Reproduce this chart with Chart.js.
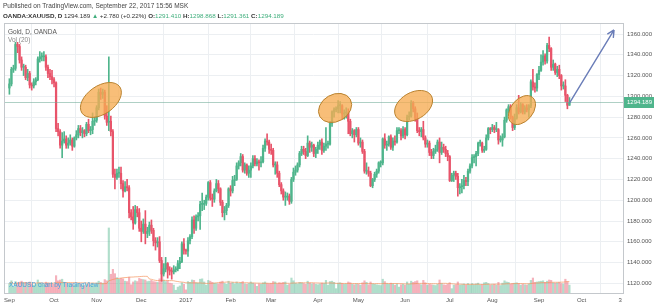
<!DOCTYPE html>
<html>
<head>
<meta charset="utf-8">
<script src="https://cdn.jsdelivr.net/npm/chart.js@4.4.0/dist/chart.umd.min.js"></script>
<style>
  html, body { margin: 0; padding: 0; background: #fff; }
  #wrap { position: relative; width: 654px; height: 307px; overflow: hidden; font-family: "Liberation Sans", Arial, sans-serif; }
  #goldChart { position: absolute; left: 0; top: 0; }
  .txt { position: absolute; white-space: nowrap; font-size: 6.5px; line-height: 8px; color: #333; }
  .up { color: #3fae7c; }
</style>
</head>
<body>
<div id="wrap">
  <canvas id="goldChart" width="654" height="307"></canvas>
  <div class="txt" style="left:3px;top:2px;color:#444;font-size:6.5px">Published on TradingView.com, September 22, 2017 15:56 MSK</div>
  <div class="txt" style="left:3px;top:12px;color:#333;font-size:6.25px"><b>OANDA:XAUUSD, D</b> 1294.189 <span class="up">▲</span> +2.780 (+0.22%) <b>O:</b><span class="up">1291.410</span> <b>H:</b><span class="up">1298.868</span> <b>L:</b><span class="up">1291.361</span> <b>C:</b><span class="up">1294.189</span></div>
  <div class="txt" style="left:8px;top:28px;color:#555">Gold, D, OANDA</div>
  <div class="txt" style="left:8px;top:36px;color:#888">Vol (20)</div>
  <div class="txt" style="left:9px;top:281px;color:#45a3dc">XAUUSD chart by TradingView</div>
</div>
<script>
// daily bars, Sep 1 2016 .. Sep 22 2017 (one line per month)
const opens = [
    1308,1312,1326,1327,1350,1348,1335,1328,1328,1318,1322,1311,1310,1314,1316,1336,1338,1338,1338,1328,1322,1319,
    1316,1313,1269,1266,1253,1257,1259,1253,1255,1258,1252,1260,1263,1269,1265,1267,1264,1273,1267,1268,1276,
    1277,1289,1304,1302,1304,1281,1275,1276,1266,1225,1222,1226,1226,1216,1209,1213,1212,1188,1184,1178,1191,1188,
    1173,1170,1177,1168,1170,1176,1171,1161,1159,1160,1142,1129,1134,1139,1133,1132,1131,1133,1134,1139,1141,1158,
    1152,1151,1161,1165,1181,1173,1184,1185,1196,1196,1197,1203,1217,1202,1201,1209,1216,1211,1198,1188,1190,1195,
    1211,1209,1219,1220,1233,1236,1242,1229,1234,1226,1229,1233,1240,1235,1237,1236,1237,1250,1257,1256,
    1249,1248,1234,1234,1226,1215,1209,1203,1203,1204,1199,1220,1227,1229,1234,1245,1249,1247,1243,1255,1251,1253,1245,
    1249,1253,1256,1248,1252,1254,1254,1274,1285,1287,1288,1291,1291,1283,1284,1284,1276,1264,1267,1263,
    1268,1255,1256,1247,1228,1228,1226,1214,1220,1225,1228,1236,1236,1259,1253,1254,1261,1251,1257,1256,1267,1267,1262,
    1268,1263,1280,1281,1294,1288,1279,1267,1266,1268,1260,1254,1255,1246,1243,1247,1249,1256,1246,1251,1249,1245,
    1242,1219,1224,1226,1223,1212,1213,1214,1219,1218,1228,1233,1241,1242,1245,1255,1255,1248,1249,1260,1269,
    1268,1270,1268,1268,1258,1258,1261,1277,1287,1290,1280,1270,1279,1289,1285,1292,1285,1289,1287,1291,1314,1309,1308,
    1321,1325,1333,1339,1334,1349,1346,1328,1331,1323,1326,1320,1310,1310,1301,1291.41
];
const highs = [
    1317,1328,1330,1352,1352,1350,1338,1331,1330,1326,1324,1313,1317,1318,1338,1343,1342,1343,1340,1330,1326,1325,
    1318,1314,1274,1268,1265,1266,1262,1260,1263,1260,1261,1267,1272,1272,1270,1268,1275,1278,1271,1284,1280,
    1291,1307,1308,1307,1306,1291,1338,1281,1268,1230,1230,1232,1232,1219,1218,1220,1214,1191,1194,1195,1194,1192,
    1180,1182,1190,1174,1179,1181,1173,1164,1164,1165,1145,1139,1145,1140,1136,1135,1137,1136,1142,1145,1160,1163,
    1153,1164,1167,1184,1185,1186,1188,1199,1207,1200,1205,1218,1219,1206,1211,1220,1219,1212,1200,1194,1197,1212,
    1214,1223,1224,1236,1238,1245,1244,1236,1235,1233,1236,1243,1243,1240,1239,1242,1253,1259,1264,1258,
    1254,1250,1237,1237,1228,1217,1211,1208,1207,1206,1222,1231,1233,1236,1247,1252,1252,1250,1262,1257,1256,1254,1251,
    1256,1258,1259,1255,1270,1257,1276,1286,1289,1290,1296,1295,1292,1287,1289,1288,1278,1269,1268,1270,
    1270,1260,1258,1249,1236,1232,1228,1221,1227,1230,1237,1238,1260,1264,1257,1262,1263,1260,1262,1270,1270,1269,1271,
    1270,1282,1285,1296,1295,1290,1284,1270,1270,1276,1262,1258,1257,1249,1250,1253,1258,1260,1256,1254,1252,1248,
    1243,1226,1228,1228,1226,1216,1220,1224,1222,1230,1235,1244,1244,1247,1256,1258,1256,1252,1263,1270,1270,
    1273,1272,1275,1269,1262,1264,1280,1288,1292,1292,1281,1283,1292,1301,1294,1293,1291,1292,1292,1316,1326,1313,1322,
    1329,1340,1344,1341,1351,1357,1347,1335,1332,1329,1330,1321,1314,1316,1302,1298.87
];
const lows = [
    1302,1310,1323,1325,1342,1332,1325,1320,1316,1315,1308,1306,1308,1311,1315,1333,1334,1334,1325,1318,1316,1312,
    1309,1266,1262,1250,1241,1255,1250,1250,1253,1248,1251,1258,1260,1262,1260,1261,1262,1265,1263,1264,1272,
    1275,1287,1297,1298,1278,1272,1267,1262,1222,1211,1220,1222,1211,1203,1208,1209,1183,1181,1172,1177,1184,1170,
    1160,1168,1158,1164,1166,1168,1156,1152,1155,1140,1122,1127,1131,1125,1128,1124,1129,1131,1132,1134,1140,1148,
    1148,1146,1158,1163,1168,1171,1180,1172,1190,1191,1195,1200,1200,1194,1198,1208,1207,1195,1184,1181,1186,1193,
    1204,1207,1214,1219,1230,1233,1227,1226,1224,1222,1222,1231,1233,1233,1229,1232,1236,1247,1253,1245,
    1244,1232,1225,1222,1213,1206,1200,1195,1200,1196,1197,1218,1224,1227,1232,1243,1244,1240,1242,1246,1247,1242,1241,
    1245,1249,1244,1246,1248,1250,1253,1271,1280,1285,1284,1284,1278,1278,1279,1264,1262,1260,1256,1261,
    1253,1251,1245,1226,1225,1223,1213,1212,1218,1222,1226,1232,1234,1250,1248,1252,1249,1248,1253,1255,1264,1258,1260,
    1259,1262,1277,1280,1285,1276,1265,1262,1261,1258,1251,1251,1243,1240,1240,1245,1247,1236,1244,1246,1242,1238,
    1218,1218,1218,1220,1204,1206,1207,1211,1214,1214,1226,1231,1236,1233,1243,1252,1246,1246,1248,1258,1264,
    1266,1265,1266,1254,1256,1252,1260,1275,1284,1278,1267,1268,1278,1283,1284,1283,1283,1285,1280,1289,1306,1304,1305,
    1316,1324,1330,1331,1332,1343,1325,1325,1321,1319,1317,1306,1307,1295,1288,1291.36
];
const closes = [
    1312,1326,1327,1350,1348,1335,1328,1328,1318,1322,1311,1310,1314,1316,1336,1338,1338,1338,1328,1322,1319,1316,
    1313,1269,1266,1253,1257,1259,1253,1255,1258,1252,1260,1263,1269,1265,1267,1264,1273,1267,1268,1276,1277,
    1289,1304,1302,1304,1281,1275,1276,1266,1225,1222,1226,1226,1216,1209,1213,1212,1188,1184,1178,1191,1188,1173,
    1170,1177,1168,1170,1176,1171,1161,1159,1160,1142,1129,1134,1139,1133,1132,1131,1133,1134,1139,1141,1158,1152,
    1151,1161,1165,1181,1173,1184,1185,1196,1196,1197,1203,1217,1202,1201,1209,1216,1211,1198,1188,1190,1195,1211,
    1209,1219,1220,1233,1236,1242,1229,1234,1226,1229,1233,1240,1235,1237,1236,1237,1250,1257,1256,1249,
    1248,1234,1234,1226,1215,1209,1203,1203,1204,1199,1220,1227,1229,1234,1245,1249,1247,1243,1255,1251,1253,1245,1249,
    1253,1256,1248,1252,1254,1254,1274,1285,1287,1288,1291,1291,1283,1284,1284,1276,1264,1267,1263,1268,
    1255,1256,1247,1228,1228,1226,1214,1220,1225,1228,1236,1236,1259,1253,1254,1261,1251,1257,1256,1267,1267,1262,1268,
    1263,1280,1281,1294,1288,1279,1267,1266,1268,1260,1254,1255,1246,1243,1247,1249,1256,1246,1251,1249,1245,1242,
    1219,1224,1226,1223,1212,1213,1214,1219,1218,1228,1233,1241,1242,1245,1255,1255,1248,1249,1260,1269,1268,
    1270,1268,1268,1258,1258,1261,1277,1287,1290,1280,1270,1279,1289,1285,1292,1285,1289,1287,1291,1314,1309,1308,1321,
    1325,1333,1339,1334,1349,1346,1328,1331,1323,1326,1320,1310,1310,1301,1291.41,1294.19
];
// volume, thousands
const volumes = [
    48,62,30,58,52,55,60,50,54,47,56,45,40,44,66,52,45,43,55,50,46,48,
    44,88,62,66,70,50,48,46,45,47,42,44,49,46,42,38,44,46,40,50,42,
    52,60,54,50,68,62,330,95,120,98,78,70,74,72,60,58,80,42,56,62,58,74,
    70,68,66,58,60,64,58,56,54,72,96,66,58,62,50,48,40,14,30,36,52,44,
    16,58,54,66,64,52,50,70,72,56,40,64,60,54,50,48,46,56,60,48,44,60,
    50,54,46,56,48,52,58,46,44,48,56,50,46,34,46,44,52,56,48,46,
    48,58,56,46,52,50,54,56,40,44,76,62,50,46,54,52,48,44,60,50,46,48,44,
    42,46,50,48,64,40,58,60,54,22,50,52,48,44,46,56,52,44,42,46,
    44,40,52,62,54,42,56,46,44,42,40,38,70,58,48,44,50,46,40,46,30,42,44,
    40,56,44,60,54,58,62,44,42,64,52,40,44,42,40,38,44,66,48,42,40,44,
    52,22,40,42,56,40,42,46,40,48,40,48,42,46,50,40,42,52,54,48,40,
    42,44,40,54,38,50,62,56,54,44,48,50,52,48,40,44,42,40,46,64,76,54,56,
    58,60,62,54,60,66,64,52,50,52,54,48,46,70,58,40
];
const monthStarts = [0, 22, 43, 65, 87, 109, 129, 152, 172, 195, 217, 238, 261, 282, 301];
const monthLabels = ['Sep', 'Oct', 'Nov', 'Dec', '2017', 'Feb', 'Mar', 'Apr', 'May', 'Jun', 'Jul', 'Aug', 'Sep', 'Oct', '3'];
const priceTicks = [1120, 1140, 1160, 1180, 1200, 1220, 1240, 1260, 1280, 1300, 1320, 1340, 1360];
const lastPrice = 1294.189;

// hand-drawn marks on the chart (bar index / price)
const highlights = [
    { bar: 45.1, price: 1296.5, rx: 23, ry: 14, tilt: -35 },
    { bar: 160.5, price: 1288.8, rx: 17.5, ry: 13.5, tilt: -30 },
    { bar: 199.2, price: 1290.7, rx: 20.5, ry: 13.5, tilt: -30 },
    { bar: 252.6, price: 1286.8, rx: 16.5, ry: 11, tilt: -50 }
];
const arrow = { from: [276, 1293.5], to: [298, 1364] };

const UP = '#4fb58c', DOWN = '#e8546a';
const isUp = closes.map((c, i) => c >= opens[i]);
const candleColors = isUp.map(u => u ? UP : DOWN);
const volColors = isUp.map(u => u ? 'rgba(79,181,140,0.45)' : 'rgba(232,84,106,0.45)');

// Vol(20) moving average
const volMA = volumes.map((v, i) => {
    const from = Math.max(0, i - 19);
    const part = volumes.slice(from, i + 1);
    return { x: i, y: part.reduce((a, b) => a + b, 0) / part.length };
});

const markup = {
    id: 'markup',
    afterDatasetsDraw(chart) {
        const { ctx, chartArea: a, scales: { x, y } } = chart;
        ctx.save();
        ctx.beginPath();
        ctx.rect(a.left, a.top, a.right - a.left, a.bottom - a.top);
        ctx.clip();
        // last price line
        const py = Math.round(y.getPixelForValue(lastPrice)) + 0.5;
        ctx.strokeStyle = 'rgba(110,170,150,0.55)';
        ctx.lineWidth = 1;
        ctx.beginPath();
        ctx.moveTo(a.left, py);
        ctx.lineTo(a.right, py);
        ctx.stroke();
        // ellipses
        highlights.forEach(h => {
            ctx.beginPath();
            ctx.ellipse(x.getPixelForValue(h.bar), y.getPixelForValue(h.price), h.rx, h.ry, h.tilt * Math.PI / 180, 0, Math.PI * 2);
            ctx.fillStyle = 'rgba(246,172,82,0.78)';
            ctx.fill();
            ctx.strokeStyle = '#b9822f';
            ctx.lineWidth = 1;
            ctx.stroke();
        });
        // arrow
        const x1 = x.getPixelForValue(arrow.from[0]), y1 = y.getPixelForValue(arrow.from[1]);
        const x2 = x.getPixelForValue(arrow.to[0]), y2 = y.getPixelForValue(arrow.to[1]);
        const ang = Math.atan2(y2 - y1, x2 - x1);
        ctx.strokeStyle = '#6a7db8';
        ctx.lineWidth = 1.4;
        ctx.beginPath();
        ctx.moveTo(x1, y1);
        ctx.lineTo(x2, y2);
        ctx.moveTo(x2, y2);
        ctx.lineTo(x2 - 8 * Math.cos(ang - 0.45), y2 - 8 * Math.sin(ang - 0.45));
        ctx.moveTo(x2, y2);
        ctx.lineTo(x2 - 8 * Math.cos(ang + 0.45), y2 - 8 * Math.sin(ang + 0.45));
        ctx.stroke();
        ctx.restore();
    },
    afterDraw(chart) {
        const { ctx, chartArea: a, scales: { y } } = chart;
        ctx.save();
        // frame
        ctx.strokeStyle = '#c4c8cc';
        ctx.lineWidth = 1;
        ctx.strokeRect(a.left + 0.5, a.top + 0.5, a.right - a.left, a.bottom - a.top);
        // last price label
        const py = Math.round(y.getPixelForValue(lastPrice));
        ctx.fillStyle = '#4fb58c';
        ctx.fillRect(a.right + 1, py - 5, chart.width - a.right - 1, 11);
        ctx.fillStyle = '#fff';
        ctx.font = '6px "Liberation Sans", Arial, sans-serif';
        ctx.textBaseline = 'middle';
        ctx.fillText(lastPrice.toFixed(3), a.right + 4, py + 0.5);
        ctx.restore();
    }
};

Chart.defaults.font.family = '"Liberation Sans", Arial, sans-serif';
Chart.defaults.font.size = 6;
Chart.defaults.color = '#555';

new Chart(document.getElementById('goldChart').getContext('2d'), {
    type: 'bar',
    data: {
        datasets: [
            {
                type: 'line',
                label: 'Vol MA',
                data: volMA,
                yAxisID: 'yv',
                borderColor: 'rgba(245,150,95,0.7)',
                borderWidth: 1,
                pointRadius: 0,
                order: 3
            },
            {
                label: 'Volume',
                data: volumes.map((v, i) => ({ x: i, y: v })),
                yAxisID: 'yv',
                backgroundColor: volColors,
                barThickness: 1.5,
                grouped: false,
                order: 4
            },
            {
                label: 'Wicks',
                data: lows.map((l, i) => ({ x: i, y: [l, highs[i]] })),
                backgroundColor: candleColors,
                barThickness: 1,
                grouped: false,
                order: 2
            },
            {
                label: 'Bodies',
                data: opens.map((o, i) => ({ x: i, y: [o, closes[i]] })),
                backgroundColor: candleColors,
                barThickness: 1.6,
                minBarLength: 1,
                grouped: false,
                order: 1
            }
        ]
    },
    options: {
        responsive: false,
        animation: false,
        devicePixelRatio: 1,
        layout: { padding: { left: 4, top: 23, right: 0, bottom: 0 } },
        plugins: { legend: { display: false }, tooltip: { enabled: false } },
        scales: {
            x: {
                type: 'linear',
                min: -2.66,
                max: 302.4,
                offset: false,
                grid: { color: '#eceff2', drawTicks: false },
                border: { color: '#c4c8cc' },
                ticks: {
                    padding: 4,
                    autoSkip: false,
                    maxRotation: 0,
                    color: '#555',
                    callback: v => monthLabels[monthStarts.indexOf(v)] || ''
                },
                afterBuildTicks: s => { s.ticks = monthStarts.map(v => ({ value: v })); },
                afterFit: s => { s.height = 14; }
            },
            y: {
                position: 'right',
                min: 1110.7,
                max: 1370.6,
                grid: { color: '#eceff2', drawTicks: false },
                border: { color: '#c4c8cc' },
                ticks: { padding: 4, color: '#555', callback: v => v.toFixed(3) },
                afterBuildTicks: s => { s.ticks = priceTicks.map(v => ({ value: v })); },
                afterFit: s => { s.width = 31; }
            },
            yv: {
                display: false,
                min: 0,
                max: 1370
            }
        }
    },
    plugins: [markup]
});
</script>
</body>
</html>
